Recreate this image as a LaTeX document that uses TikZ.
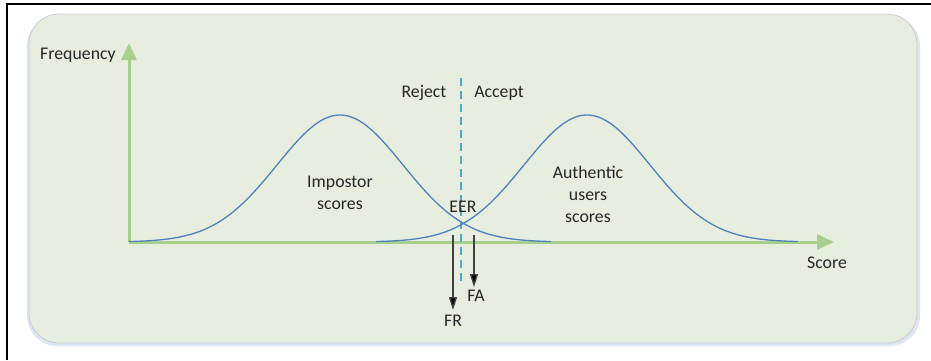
\documentclass[tikz,border=0pt]{standalone}
\usepackage{fontspec}
\setmainfont{Carlito}
\usetikzlibrary{arrows.meta}
\definecolor{panel}{HTML}{E7EEDF}
\definecolor{panelborder}{HTML}{C9CDCF}
\definecolor{panelshadow}{HTML}{DDE7F3}
\definecolor{axisgreen}{HTML}{A8D08D}
\definecolor{curveblue}{HTML}{4F81BD}
\definecolor{dashblue}{HTML}{4BACC6}
\definecolor{txt}{HTML}{262626}
\tikzset{
  lbl/.style={font=\fontsize{17.8}{20}\selectfont, text=txt, inner sep=0pt, align=center},
  axis/.style={draw=axisgreen, line width=3pt, -{Triangle[width=15pt,length=17pt]}},
  curve/.style={draw=curveblue, line width=1.3pt},
  thr/.style={draw=dashblue, line width=1.4pt, dash pattern=on 8pt off 5pt},
  err/.style={draw=black!75, line width=1.4pt, -{Triangle[width=8pt,length=13pt,fill=black]}}
}
\begin{document}
\begin{tikzpicture}[x=1pt,y=-1pt]
\useasboundingbox (0,0) rectangle (931,360);
\fill[white] (0,0) rectangle (931,360);
% outer frame (top and left only)
\draw[black, line width=1.5pt] (7,360) -- (7,4) -- (931,4);
% panel
\fill[panelshadow, rounded corners=30pt] (27,16) rectangle (920,346);
\filldraw[fill=panel, draw=panelborder, line width=0.8pt, rounded corners=30pt] (29,14) rectangle (917,343);
% axes
\coordinate (O) at (129,242);
\coordinate (Ytip) at (129,43);
\coordinate (Xtip) at (834,242);
\draw[axis] (O) -- (Ytip);
\draw[axis] (O) -- (Xtip);
% threshold
\coordinate (T1) at (461,78);
\coordinate (T2) at (461,282);
\draw[thr] (T1) -- (T2);
% curves
\draw[curve, domain=-3.35:3.35, samples=150, smooth] plot ({340+63*\x}, {242-127*exp(-0.5*\x*\x)});
\draw[curve, domain=-3.35:3.35, samples=150, smooth] plot ({587+63*\x}, {242-127*exp(-0.5*\x*\x)});
% labels
\node[lbl, anchor=west] (freq) at (40,55) {Frequency};
\node[lbl] (score) at (827,263) {Score};
\node[lbl] (reject) at (424,93) {Reject};
\node[lbl] (accept) at (499,93) {Accept};
\node[lbl] (imp) at (340,193) {Impostor\\[2pt]scores};
\node[lbl] (auth) at (588,194) {Authentic\\[2pt]users\\[2pt]scores};
\node[lbl] (eer) at (463,207) {EER};
\node[lbl] (fa) at (476,296) {FA};
\node[lbl] (fr) at (453,321) {FR};
% FR / FA arrows
\coordinate (frs) at (453,235);
\coordinate (fas) at (474,235);
\draw[err] (frs) -- (453,310);
\draw[err] (fas) -- (474,287);
\end{tikzpicture}
\end{document}
